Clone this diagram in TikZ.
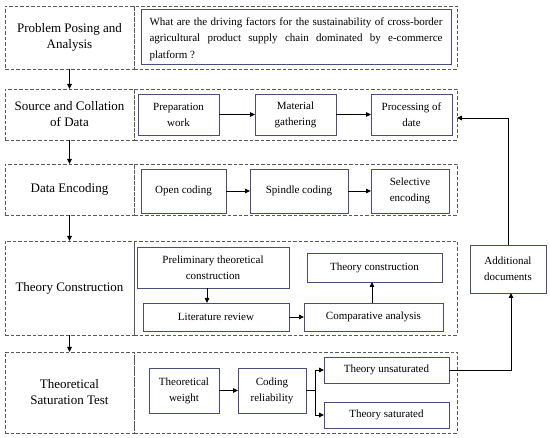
\documentclass[tikz,border=0pt]{standalone}
\usepackage{fontspec}
\setmainfont{Liberation Serif}
\usetikzlibrary{arrows.meta}
\begin{document}
\begin{tikzpicture}[x=1pt,y=-1pt,
  dbox/.style={draw=black!65, dash pattern=on 3.5pt off 2pt, line width=0.8pt, inner sep=0pt, outer sep=0pt},
  lbox/.style={dbox, minimum width=129pt, align=center, font=\fontsize{13}{16}\selectfont},
  rbox/.style={dbox, minimum width=323pt},
  ibox/.style={draw=blue!25!black!70, line width=0.9pt, inner sep=0pt, outer sep=0pt, align=center, font=\fontsize{11}{16}\selectfont},
  arr/.style={draw=black, line width=0.9pt, -{Triangle[length=5pt,width=4.5pt]}}]
\useasboundingbox (0,0) rectangle (550,438);
% left stage boxes
\node[lbox, minimum height=63pt] (l1) at (69.5,37.5) {Problem Posing and\\Analysis};
\node[lbox, minimum height=51pt] (l2) at (69.5,114.5) {Source and Collation\\of Data};
\node[lbox, minimum height=51pt] (l3) at (69.5,189.5) {Data Encoding};
\node[lbox, minimum height=94pt] (l4) at (69.5,288) {Theory Construction};
\node[lbox, minimum height=81pt] (l5) at (69.5,392.5) {Theoretical\\Saturation Test};
% right stage boxes
\node[rbox, minimum height=63pt] (r1) at (295.5,37.5) {};
\node[rbox, minimum height=51pt] (r2) at (295.5,114.5) {};
\node[rbox, minimum height=51pt] (r3) at (295.5,189.5) {};
\node[rbox, minimum height=94pt] (r4) at (295.5,288) {};
\node[rbox, minimum height=81pt] (r5) at (295.5,392.5) {};
% row 1
\node[ibox, minimum width=310pt, minimum height=55pt] (q) at (296,36.5) {};
\node[anchor=base, inner sep=0pt] (qt) at (296,25.5) {\parbox[t]{293pt}{\fontsize{11}{16.5}\selectfont What are the driving factors for the sustainability of cross-border\linebreak agricultural product supply chain dominated by e-commerce\linebreak platform ?}};
% row 2
\node[ibox, minimum width=81pt, minimum height=41pt] (prep) at (178.5,114.5) {Preparation\\work};
\node[ibox, minimum width=81pt, minimum height=41pt] (mat) at (295.5,114.5) {Material\\gathering};
\node[ibox, minimum width=81pt, minimum height=41pt] (proc) at (411.5,114.5) {Processing of\\date};
% row 3
\node[ibox, minimum width=85pt, minimum height=44pt] (open) at (183.5,191) {Open coding};
\node[ibox, minimum width=98pt, minimum height=44pt] (spin) at (299,191) {Spindle coding};
\node[ibox, minimum width=78pt, minimum height=44pt] (sel) at (410,191) {Selective\\encoding};
% row 4
\node[ibox, minimum width=152pt, minimum height=41pt] (pre) at (213,267.5) {Preliminary theoretical\\construction};
\node[ibox, minimum width=146pt, minimum height=28pt] (lit) at (216,317) {Literature review};
\node[ibox, minimum width=139pt, minimum height=28pt] (comp) at (373.5,317) {Comparative analysis};
\node[ibox, minimum width=135pt, minimum height=29pt] (tc) at (374.5,267.5) {Theory construction};
\node[ibox, minimum width=76pt, minimum height=48pt] (add) at (508,269) {Additional\\documents};
% row 5
\node[ibox, minimum width=70pt, minimum height=45pt] (tw) at (184,390.5) {Theoretical\\weight};
\node[ibox, minimum width=68pt, minimum height=45pt] (cr) at (272,390.5) {Coding\\reliability};
\node[ibox, minimum width=125pt, minimum height=26pt] (uns) at (386.5,370) {Theory unsaturated};
\node[ibox, minimum width=125pt, minimum height=26pt] (sat) at (386.5,415) {Theory saturated};
% arrows between stages
\draw[arr] (l1.south) -- (l2.north);
\draw[arr] (l2.south) -- (l3.north);
\draw[arr] (l3.south) -- (l4.north);
\draw[arr] (l4.south) -- (l5.north);
% inner arrows
\draw[arr] (prep.east) -- (mat.west);
\draw[arr] (mat.east) -- (proc.west);
\draw[arr] (open.east) -- (spin.west);
\draw[arr] (spin.east) -- (sel.west);
\draw[arr] ([xshift=-6pt]pre.south) -- ([xshift=-6pt]pre.south |- lit.north);
\draw[arr] (lit.east) -- (comp.west);
\draw[arr] ([xshift=-1.5pt]comp.north) -- ([xshift=-1.5pt]comp.north |- tc.south);
\draw[arr] (tw.east) -- (cr.west);
\draw[arr] (cr.east) -- ++(9,0) |- (uns.west);
\draw[arr] (cr.east) -- ++(9,0) |- (sat.west);
\draw[arr] (uns.east) -| ([xshift=3pt]add.south);
\draw[arr] (add.north) |- ([yshift=-3.5pt]r2.east);
\end{tikzpicture}
\end{document}
